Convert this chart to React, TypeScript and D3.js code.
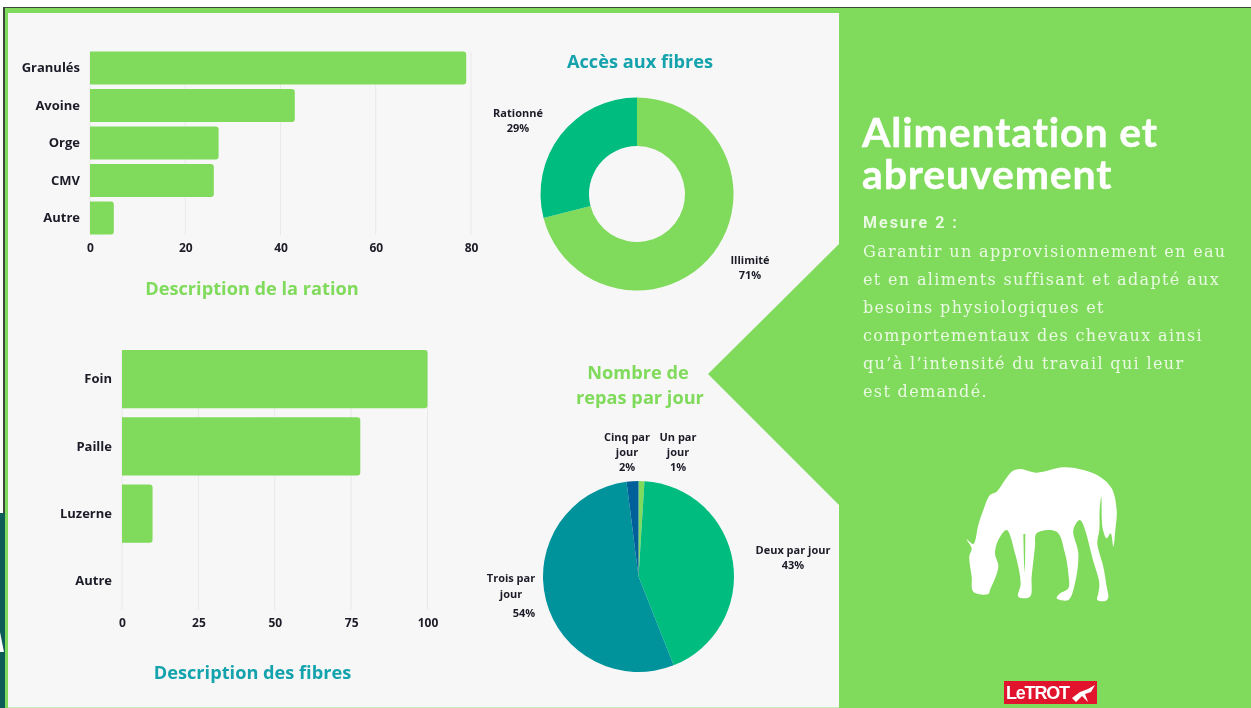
import { useRef, useEffect } from "react";
import * as d3 from "d3";

const rationCategories = ["Granulés", "Avoine", "Orge", "CMV", "Autre"];
const rationValues = [79, 43, 27, 26, 5];
const rationTicks = [0, 20, 40, 60, 80];

const fibreCategories = ["Foin", "Paille", "Luzerne", "Autre"];
const fibreValues = [100, 78, 10, 0];
const fibreTicks = [0, 25, 50, 75, 100];

const accessLabels = ["Illimité", "Rationné"];
const accessValues = [71, 29];

const mealLabels = ["Un par jour", "Deux par jour", "Trois par jour", "Cinq par jour"];
const mealValues = [1, 43, 54, 2];

const bodyLines = [
  "Garantir un approvisionnement en eau",
  "et en aliments suffisant et adapté aux",
  "besoins physiologiques et",
  "comportementaux des chevaux ainsi",
  "qu’à l’intensité du travail qui leur",
  "est demandé.",
];

const GREEN = "#80db5c";
const EMERALD = "#00bc7e";
const TEAL = "#00939c";
const BLUE = "#00609a";
const TITLE_TEAL = "#14a3ad";
const INK = "#1c1c28";
const SANS = "'Open Sans', sans-serif";

// horse silhouette, 3x units
const horseOutline: [number, number][] = [
  [80, 268], [100, 282], [115, 225], [130, 180], [150, 135], [170, 125], [195, 90], [215, 65], [240, 57],
  [290, 68], [370, 52], [430, 60], [480, 80], [515, 115], [530, 180], [526, 240], [520, 290], [512, 250],
  [500, 265], [488, 235], [484, 140], [479, 180], [478, 240], [472, 280], [490, 350], [500, 410], [505, 442],
  [498, 452], [472, 450], [475, 430], [478, 400], [462, 340], [420, 210], [400, 240], [415, 310], [405, 400],
  [385, 450], [350, 445], [358, 432], [385, 415], [385, 370], [375, 310], [350, 245], [290, 250], [285, 290],
  [275, 380], [270, 440], [235, 440], [242, 400], [225, 310],
  [200, 240], [175, 270], [165, 310], [175, 350], [150, 420], [145, 432], [100, 425], [95, 380], [88, 320], [95, 295],
];
const horseLegGap: [number, number][] = [[250, 252], [256, 252], [255, 370], [252, 340]];

type BarProps = {
  svg: d3.Selection<SVGSVGElement, unknown, null, undefined>;
  categories: string[];
  values: number[];
  ticks: number[];
  xRange: [number, number];
  yRange: [number, number];
  axisY: number;
  padding: number;
};

function drawBars({ svg, categories, values, ticks, xRange, yRange, axisY, padding }: BarProps) {
  const xScale = d3.scaleLinear().domain([ticks[0], ticks[ticks.length - 1]]).range(xRange);
  const yScale = d3.scaleBand().domain(categories).range(yRange).padding(padding);

  // Gridlines
  svg
    .append("g")
    .selectAll("line")
    .data(ticks)
    .join("line")
    .attr("x1", (d) => xScale(d))
    .attr("x2", (d) => xScale(d))
    .attr("y1", yScale(categories[0]) as number)
    .attr("y2", axisY)
    .attr("stroke", "#e9e9e9")
    .attr("stroke-width", 1);

  // Bars, square on the axis and rounded at the end
  const bh = yScale.bandwidth();
  svg
    .append("g")
    .selectAll("path")
    .data(categories.map((c, i) => ({ c, v: values[i] })).filter((d) => d.v > 0))
    .join("path")
    .attr("fill", GREEN)
    .attr("d", (d) => {
      const p = d3.path();
      const x0 = xScale(0);
      const x1 = xScale(d.v);
      const y0 = yScale(d.c) as number;
      p.moveTo(x0, y0);
      p.arcTo(x1, y0, x1, y0 + bh, 3);
      p.arcTo(x1, y0 + bh, x0, y0 + bh, 3);
      p.lineTo(x0, y0 + bh);
      p.closePath();
      return p.toString();
    });

  // Axes
  const bottom = svg
    .append("g")
    .attr("transform", `translate(0, ${axisY})`)
    .call(d3.axisBottom(xScale).tickValues(ticks).tickSize(0).tickPadding(8));
  const left = svg
    .append("g")
    .attr("transform", `translate(${xRange[0]}, 0)`)
    .call(d3.axisLeft(yScale).tickSize(0).tickPadding(10));
  [bottom, left].forEach((axis, i) => {
    axis.select(".domain").remove();
    axis
      .selectAll("text")
      .attr("font-family", SANS)
      .attr("font-weight", 700)
      .attr("font-size", i === 0 ? 12 : 13)
      .attr("fill", INK);
  });
}

function addLabel(
  svg: d3.Selection<SVGSVGElement, unknown, null, undefined>,
  x: number,
  y: number,
  lines: string[],
  lineHeight = 15,
) {
  const text = svg
    .append("text")
    .attr("text-anchor", "middle")
    .attr("font-family", SANS)
    .attr("font-weight", 700)
    .attr("font-size", 11)
    .attr("fill", INK);
  lines.forEach((l, i) => {
    text.append("tspan").attr("x", x).attr("y", y + i * lineHeight).text(l);
  });
}

function addTitle(
  svg: d3.Selection<SVGSVGElement, unknown, null, undefined>,
  x: number,
  y: number,
  label: string,
  color: string,
) {
  svg
    .append("text")
    .attr("x", x)
    .attr("y", y)
    .attr("text-anchor", "middle")
    .attr("font-family", SANS)
    .attr("font-weight", 700)
    .attr("font-size", 18.2)
    .attr("fill", color)
    .text(label);
}

export default function App() {
  const ref = useRef<SVGSVGElement>(null);

  useEffect(() => {
    if (!ref.current) return;
    const svg = d3.select(ref.current);
    svg.selectAll("*").remove();

    // Page frame
    svg.append("rect").attr("width", 1251).attr("height", 708).attr("fill", "#ffffff");
    svg.append("rect").attr("x", 3).attr("y", 7).attr("width", 1248).attr("height", 701).attr("fill", "#3c4a3c");
    svg.append("rect").attr("x", 5).attr("y", 8).attr("width", 1246).attr("height", 700).attr("fill", GREEN);
    svg.append("rect").attr("x", 8).attr("y", 13).attr("width", 831).attr("height", 694).attr("fill", "#f7f7f7");
    svg.append("rect").attr("x", 8).attr("y", 707).attr("width", 831).attr("height", 1).attr("fill", "#c8efb8");
    svg.append("rect").attr("x", 0).attr("y", 513).attr("width", 5).attr("height", 195).attr("fill", "#0e5c58");
    svg.append("path").attr("d", "M0 632 L4 652 L0 652 Z").attr("fill", "#ffffff");

    // Right panel with its arrow
    svg.append("path").attr("d", "M839 244 L708 374 L839 505 Z").attr("fill", GREEN);

    // Bar charts
    drawBars({
      svg,
      categories: rationCategories,
      values: rationValues,
      ticks: rationTicks,
      xRange: [90, 471],
      yRange: [47, 239],
      axisY: 235,
      padding: 0.12,
    });
    drawBars({
      svg,
      categories: fibreCategories,
      values: fibreValues,
      ticks: fibreTicks,
      xRange: [122, 427.5],
      yRange: [341, 619],
      axisY: 610,
      padding: 0.135,
    });
    addTitle(svg, 252, 295, "Description de la ration", GREEN);
    addTitle(svg, 252.5, 679, "Description des fibres", TITLE_TEAL);

    // Donut
    const donutPie = d3.pie<number>().sort(null);
    const donutArc = d3.arc<d3.PieArcDatum<number>>().innerRadius(48).outerRadius(96.5);
    const donutColors = [GREEN, EMERALD];
    svg
      .append("g")
      .attr("transform", "translate(637, 194)")
      .selectAll("path")
      .data(donutPie(accessValues))
      .join("path")
      .attr("d", donutArc)
      .attr("fill", (_, i) => donutColors[i]);
    addTitle(svg, 640, 68, "Accès aux fibres", TITLE_TEAL);
    addLabel(svg, 518, 117, [accessLabels[1], `${accessValues[1]}%`]);
    addLabel(svg, 750, 264, [accessLabels[0], `${accessValues[0]}%`]);

    // Pie
    const mealPie = d3.pie<number>().sort(null);
    const mealArc = d3.arc<d3.PieArcDatum<number>>().innerRadius(0).outerRadius(95.5);
    const mealColors = [GREEN, EMERALD, TEAL, BLUE];
    svg
      .append("g")
      .attr("transform", "translate(638.5, 576.5)")
      .selectAll("path")
      .data(mealPie(mealValues))
      .join("path")
      .attr("d", mealArc)
      .attr("fill", (_, i) => mealColors[i]);
    addTitle(svg, 638, 379, "Nombre de", GREEN);
    addTitle(svg, 640, 404, "repas par jour", GREEN);
    addLabel(svg, 627, 441, ["Cinq par", "jour", `${mealValues[3]}%`]);
    addLabel(svg, 678, 441, ["Un par", "jour", `${mealValues[0]}%`]);
    addLabel(svg, 793, 554, [mealLabels[1], `${mealValues[1]}%`]);
    addLabel(svg, 511, 582, ["Trois par", "jour"], 16);
    addLabel(svg, 524, 617, [`${mealValues[2]}%`]);

    // Right panel text
    ["Alimentation et", "abreuvement"].forEach((l, i) => {
      svg
        .append("text")
        .attr("x", 862)
        .attr("y", 147 + i * 41.5)
        .attr("font-family", "Lato, sans-serif")
        .attr("font-weight", 700)
        .attr("font-size", 41)
        .attr("letter-spacing", 0.85)
        .attr("stroke", "#ffffff")
        .attr("stroke-width", 0.4)
        .style("font-variant-ligatures", "none")
        .attr("fill", "#ffffff")
        .text(l);
    });
    svg
      .append("text")
      .attr("x", 863)
      .attr("y", 228)
      .attr("font-family", "Roboto, sans-serif")
      .attr("font-weight", 700)
      .attr("font-size", 16)
      .attr("letter-spacing", 2)
      .attr("fill", "#e9f9e2")
      .text("Mesure 2 :");
    svg
      .append("g")
      .selectAll("text")
      .data(bodyLines)
      .join("text")
      .attr("x", 863)
      .attr("y", (_, i) => 257 + i * 28)
      .attr("font-family", "'DejaVu Serif', serif")
      .attr("font-size", 16)
      .attr("letter-spacing", 1.35)
      .attr("fill", "#e9f9e2")
      .text((d) => d);

    // Horse
    const horseLine = d3.line().curve(d3.curveCatmullRomClosed.alpha(0.5));
    const horse = svg.append("g").attr("transform", "translate(940, 450) scale(0.3333)");
    horse.append("path").attr("d", horseLine(horseOutline)).attr("fill", "#ffffff");
    horse.append("path").attr("d", d3.line()(horseLegGap)).attr("fill", GREEN);

    // Logo
    svg.append("rect").attr("x", 1004).attr("y", 681).attr("width", 93).attr("height", 23).attr("fill", "#e2142d");
    svg
      .append("text")
      .attr("x", 1006)
      .attr("y", 699)
      .attr("font-family", "'Liberation Sans', sans-serif")
      .attr("font-weight", 700)
      .attr("font-size", 18)
      .attr("letter-spacing", -1.2)
      .attr("fill", "#ffffff")
      .text("LeTROT");
    svg
      .append("path")
      .attr("d", "M1072 698 L1080 692 L1088 689 L1095 685 L1091 692 L1085 694 L1088 702 L1082 696 L1076 702 Z")
      .attr("fill", "#ffffff");
  }, []);

  return (
    <svg
      ref={ref}
      width={1251}
      height={708}
      style={{ position: "absolute", left: 0, top: 0, display: "block", filter: "blur(0.45px)" }}
    />
  );
}
